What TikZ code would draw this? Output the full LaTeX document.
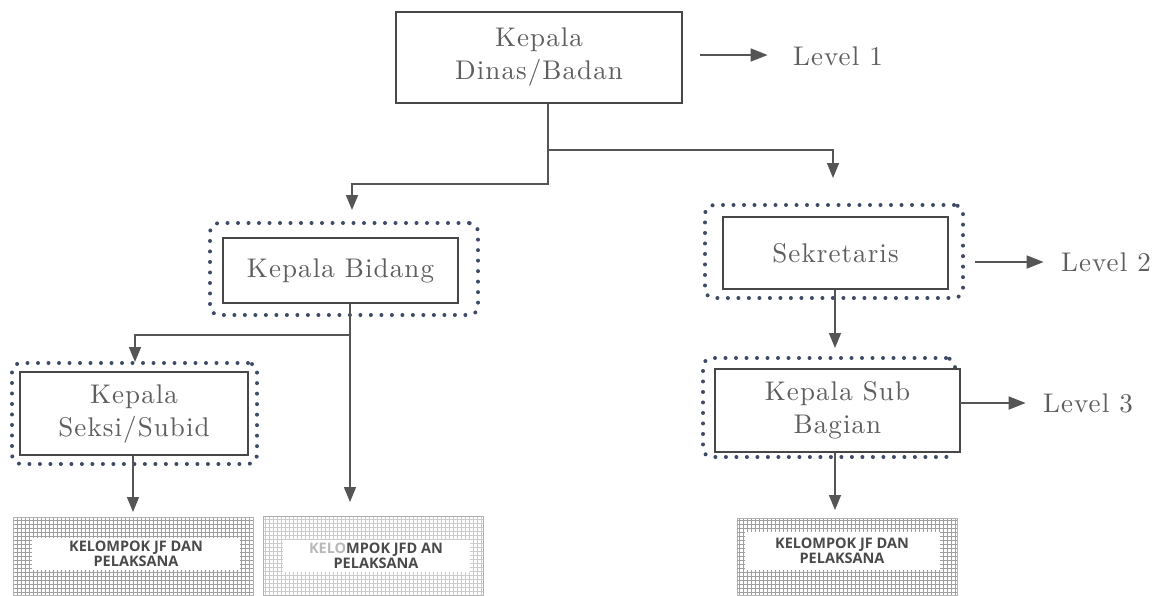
\documentclass[tikz,border=0pt]{standalone}
\usepackage{fontspec}
\newfontfamily\jfsans{Open Sans}
\newfontfamily\unitfont{lmroman10-regular.otf}[LetterSpace=4]
\usetikzlibrary{arrows.meta}

\definecolor{boxline}{HTML}{474747}
\definecolor{connline}{HTML}{555555}
\definecolor{labeltext}{HTML}{5E5E5E}
\definecolor{dotnavy}{HTML}{3E4A66}
\definecolor{jftext}{HTML}{4A4A4A}

\tikzset{
  unit/.style={draw=boxline, line width=2.6pt, fill=white, text=labeltext,
    font=\unitfont\fontsize{27}{33}\selectfont,
    align=center, inner sep=0pt},
  dotframe/.style={draw=dotnavy, line width=4pt, dash pattern=on 0pt off 10.5pt,
    line cap=round, rounded corners=9pt, inner sep=0pt},
  conn/.style={draw=connline, line width=1.5pt},
  tip/.style={-{Triangle[length=15pt,width=12pt]}},
  leveltip/.style={draw=connline, line width=1.8pt, -{Triangle[length=17pt,width=13pt]}},
  leveltext/.style={text=labeltext, font=\unitfont\fontsize{27}{33}\selectfont},
  jfbox/.style={draw=gray!60, line width=0.6pt, inner sep=0pt,
    path picture={\draw[draw=#1, line width=0.6pt, xstep=4pt, ystep=4pt]
      (path picture bounding box.south west) grid (path picture bounding box.north east);}},
  jflabel/.style={fill=white, text=jftext, inner sep=0pt, align=center,
    font=\jfsans\bfseries\fontsize{14.5}{15}\selectfont},
}

\begin{document}
\begin{tikzpicture}[x=1pt, y=-1pt]
\useasboundingbox (0,0) rectangle (1164,595);
\fill[white] (0,0) rectangle (1164,595);

% dotted frames around the lower units
\node[dotframe, minimum width=268, minimum height=92] (bidF) at (344,269) {};
\node[dotframe, minimum width=245, minimum height=101] (seksiF) at (134.5,413.5) {};
\node[dotframe, minimum width=258, minimum height=93] (sekF) at (834,251.5) {};
\node[dotframe, minimum width=252, minimum height=99] (subF) at (829,407.5) {};

% units
\node[unit, minimum width=286, minimum height=91] (kd) at (539,57.5) {Kepala\\Dinas/Badan};
\node[unit, minimum width=235, minimum height=65] (bid) at (340.5,270.5) {Kepala Bidang};
\node[unit, minimum width=228, minimum height=83] (seksi) at (134,413.5) {Kepala\\Seksi/Subid};
\node[unit, minimum width=225, minimum height=72] (sek) at (835.5,253) {Sekretaris};
\node[unit, minimum width=245, minimum height=83] (sub) at (837.5,410.5) {Kepala Sub\\Bagian};

% functional groups
\node[jfbox=gray!75, minimum width=240, minimum height=78] (jf1) at (133,556) {};
\node[jfbox=gray!40, minimum width=220, minimum height=79] (jf2) at (373,555.5) {};
\node[jfbox=gray!75, minimum width=220, minimum height=77] (jf3) at (847,556.5) {};
\node[jflabel, minimum width=208, minimum height=32] (jf1t) at (136,554) {KELOMPOK JF DAN\\PELAKSANA};
\node[jflabel, minimum width=187, minimum height=32] (jf2t) at (376,556) {{\color{gray!55}KELO}MPOK JFD AN\\PELAKSANA};
\node[jflabel, minimum width=195, minimum height=38] (jf3t) at (842,551) {KELOMPOK JF DAN\\PELAKSANA};

% junction and tip points
\coordinate (jx) at (548,184);
\coordinate (jr) at (548,150);
\coordinate (tipBid) at (352,210);
\coordinate (tipSek) at (833,178);
\coordinate (bx) at (350,335);
\coordinate (tipSeksi) at (135,362);
\coordinate (tipJf2) at (350,502);
\coordinate (tipJf1) at (133,512);
\coordinate (sx) at (835,0);
\coordinate (tipSub) at (835,348);
\coordinate (tipJf3) at (835,510);

% hierarchy connectors
\draw[conn, tip] (kd.south -| jx) -- (jx) -| (tipBid);
\draw[conn, tip] (jr) -| (tipSek);
\draw[conn, tip] (bid.south -| bx) -- (tipJf2);
\draw[conn, tip] (bx) -| (tipSeksi);
\draw[conn, tip] (seksi.south -| tipJf1) -- (tipJf1);
\draw[conn, tip] (sek.south -| sx) -- (tipSub);
\draw[conn, tip] (sub.south -| sx) -- (tipJf3);

% level markers
\node[leveltext] (lv1) at (838,56) {Level 1};
\node[leveltext] (lv2) at (1106,262) {Level 2};
\node[leveltext] (lv3) at (1088,403) {Level 3};
\coordinate (a1) at (700,55);
\coordinate (a2) at (975,262);
\coordinate (a3) at (960,403);
\draw[leveltip] (a1) -- ([xshift=-22pt]lv1.west |- a1);
\draw[leveltip] (a2) -- ([xshift=-14pt]lv2.west |- a2);
\draw[leveltip] (a3) -- ([xshift=-14pt]lv3.west |- a3);
\end{tikzpicture}
\end{document}
